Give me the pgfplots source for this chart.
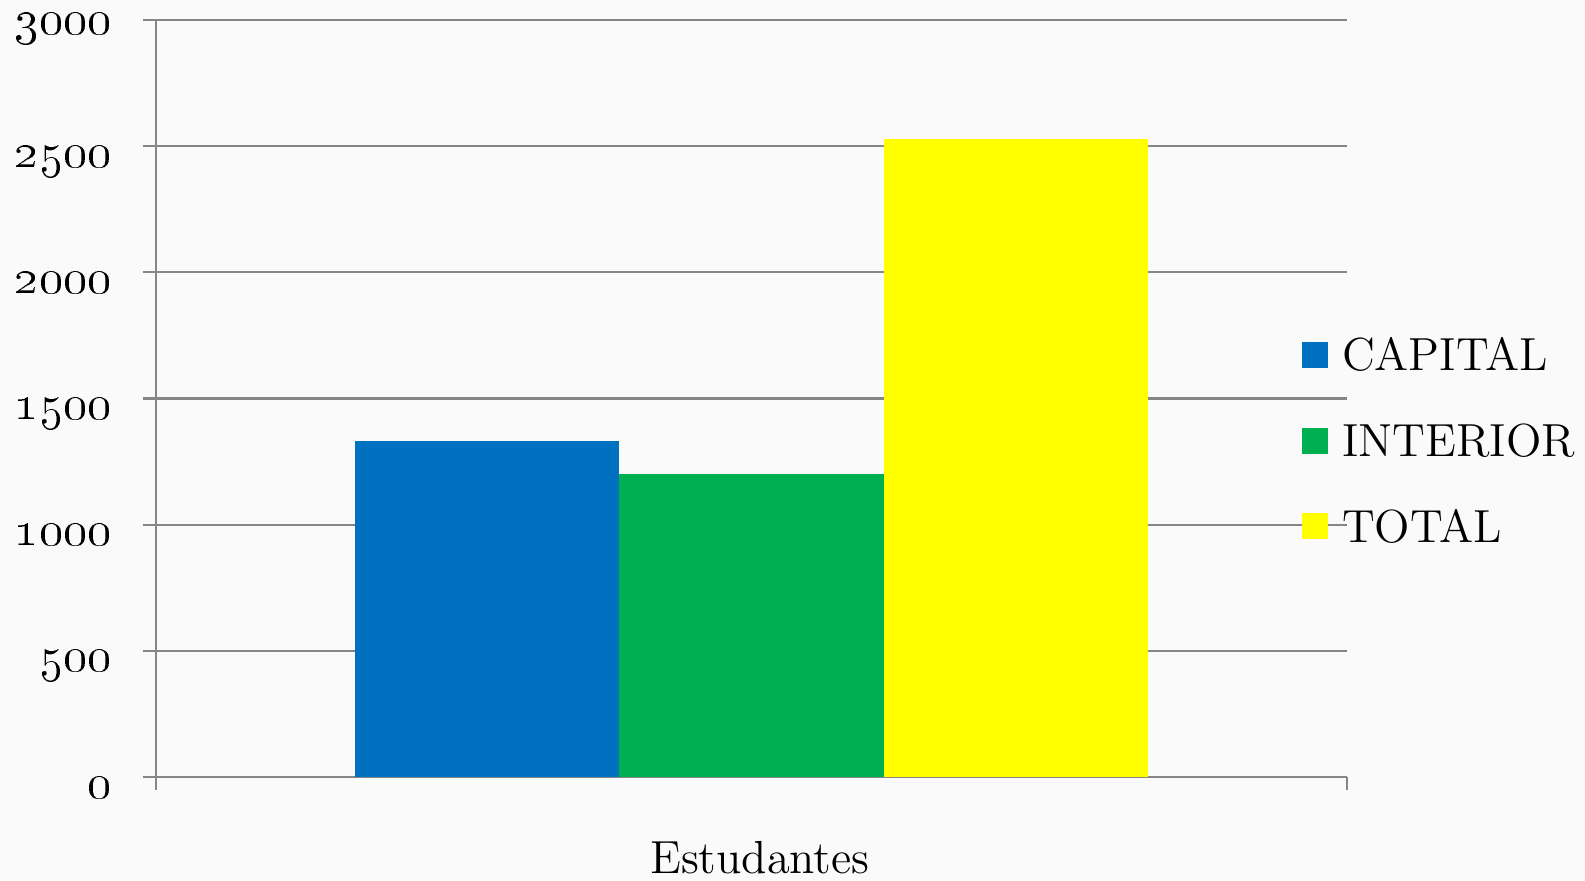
\documentclass[border=0pt]{standalone}
\usepackage{pgfplots}
\pgfplotsset{compat=1.18}
\definecolor{capblue}{HTML}{0070C0}
\definecolor{intgreen}{HTML}{00B050}
\definecolor{totyellow}{HTML}{FFFF00}
\definecolor{gridgray}{HTML}{868686}
\definecolor{bg}{HTML}{FAFAFA}
\begin{document}
\begin{tikzpicture}
\useasboundingbox (0,0) rectangle (158.5mm,88mm);
\fill[bg] (0,0) rectangle (158.5mm,88mm);
\begin{axis}[
    at={(15.6mm,10.3mm)}, anchor=south west,
    scale only axis, width=119.1mm, height=75.7mm,
    xmin=-0.5, xmax=0.5, ymin=0, ymax=3000,
    axis x line*=bottom, axis y line*=left,
    axis line style={gridgray, line width=0.6pt},
    ytick={0,500,1000,1500,2000,2500,3000},
    yticklabels={\oldstylenums{0},\oldstylenums{500},\oldstylenums{1000},\oldstylenums{1500},\oldstylenums{2000},\oldstylenums{2500},\raisebox{0.6mm}{\oldstylenums{3000}}},
    yticklabel style={anchor=base east, inner sep=0pt, xshift=-3.1mm, yshift=-2.1mm, font=\fontsize{13.6}{16}\selectfont},
    xtick={-0.5,0.5}, xticklabels={},
    tick align=outside, major tick length=1.3mm,
    tick style={gridgray, line width=0.6pt},
    ymajorgrids, grid style={gridgray, line width=0.6pt},
    ybar=0pt, bar width=26.4mm,
    xlabel={Estudantes},
    xlabel style={at={(axis description cs:0.507,0)}, anchor=base, yshift=-9.6mm, inner sep=0pt, font=\fontsize{13.2}{16}\selectfont},
    legend cell align=left,
    legend image code/.code={\draw[#1, draw=none] (0pt,-3.7pt) rectangle (7.4pt,3.7pt);},
    legend style={at={(axis description cs:0.9622,0.4445)}, anchor=west, draw=none, fill=none,
      inner sep=0pt, outer sep=0pt, row sep=15.4pt, column sep=4pt,
      font=\fontsize{13.2}{16}\selectfont,
      nodes={inner sep=0pt, text height=9pt, text depth=0pt}},
]
\addplot[fill=capblue, draw=none] coordinates {(0,1330)};
\addlegendentry{CAPITAL}
\addplot[fill=intgreen, draw=none] coordinates {(0,1200)};
\addlegendentry{INTERIOR}
\addplot[fill=totyellow, draw=none] coordinates {(0,2530)};
\addlegendentry{TOTAL}
\end{axis}
\end{tikzpicture}
\end{document}
